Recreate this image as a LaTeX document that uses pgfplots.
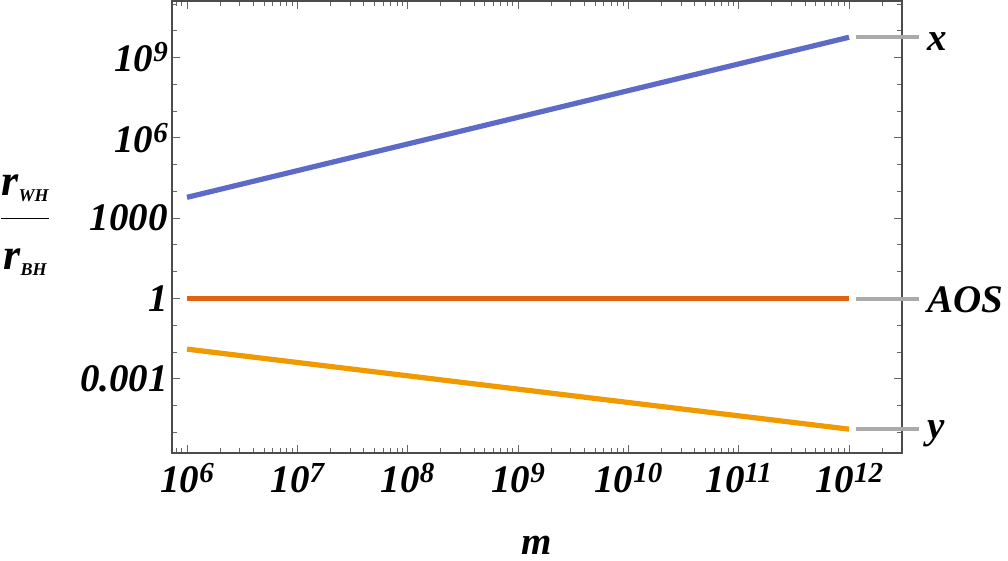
\documentclass[border=0pt]{standalone}
\usepackage{pgfplots}
\pgfplotsset{compat=1.18}
\usepackage{fontspec}
\setmainfont{Liberation Serif}
\definecolor{cx}{RGB}{93,106,200}
\definecolor{caos}{RGB}{227,98,15}
\definecolor{cy}{RGB}{240,154,0}
\definecolor{cgr}{RGB}{170,170,170}
\newcommand{\tp}[1]{10\raisebox{5pt}{\fontsize{14.5}{15}\selectfont #1}}
\newcommand{\lab}{\fontsize{19.5}{21}\selectfont\bfseries\itshape}
\begin{document}
\begin{tikzpicture}
\begin{axis}[
  xmode=log, ymode=log,
  scale only axis, width=365pt, height=226pt,
  xmin=7.31e5, xmax=3.02e12,
  ymin=1.70e-6, ymax=1.3e11,
  clip=false,
  axis line style={black!70, line width=0.6pt},
  tick style={black!60, line width=0.5pt},
  major tick length=4pt, minor tick length=2.3pt,
  tick align=inside,
  xtick={1e6,1e7,1e8,1e9,1e10,1e11,1e12},
  xticklabels={\tp{6},\tp{7},\tp{8},\tp{9},\tp{10},\tp{11},\tp{12}},
  minor xtick={8e5,9e5,
    2e6,3e6,4e6,5e6,6e6,7e6,8e6,9e6,
    2e7,3e7,4e7,5e7,6e7,7e7,8e7,9e7,
    2e8,3e8,4e8,5e8,6e8,7e8,8e8,9e8,
    2e9,3e9,4e9,5e9,6e9,7e9,8e9,9e9,
    2e10,3e10,4e10,5e10,6e10,7e10,8e10,9e10,
    2e11,3e11,4e11,5e11,6e11,7e11,8e11,9e11,
    2e12},
  ytick={1e-3,1,1e3,1e6,1e9},
  yticklabels={0.001,1,1000,\tp{6},\tp{9}},
  minor ytick={1e-5,1e-4,1e-2,1e-1,1e1,1e2,1e4,1e5,1e7,1e8,1e10,1e11},
  every tick label/.append style={font=\lab},
  xticklabel style={yshift=-1.7pt},
  yticklabel style={xshift=1.5pt},
  xlabel={m},
  xlabel style={font=\lab, at={(rel axis cs:0.5,0)}, anchor=base, yshift=-51pt},
]
\addplot[cx, line width=2.6pt] coordinates {(1e6,6026) (1e12,5.75e9)};
\addplot[caos, line width=2.6pt] coordinates {(1e6,1) (1e12,1)};
\addplot[cy, line width=2.6pt] coordinates {(1e6,0.0129) (1e12,1.32e-5)};
\addplot[cgr, line width=2pt] coordinates {(1.16e12,5.75e9) (4.33e12,5.75e9)};
\addplot[cgr, line width=2pt] coordinates {(1.16e12,1) (4.33e12,1)};
\addplot[cgr, line width=2pt] coordinates {(1.16e12,1.32e-5) (4.33e12,1.32e-5)};
\node[anchor=base west, inner sep=0pt, font=\lab, xshift=4pt, yshift=-6.5pt] at (axis cs:4.33e12,5.75e9) {x};
\node[anchor=base west, inner sep=0pt, font=\lab, xshift=4pt, yshift=-7pt] at (axis cs:4.33e12,1) {AOS};
\node[anchor=base west, inner sep=0pt, font=\lab, xshift=4pt, yshift=-4.5pt] at (axis cs:4.33e12,1.32e-5) {y};
\node[anchor=center, inner sep=0pt] at ([xshift=-73.5pt]rel axis cs:0,0.509) {%
  \fontsize{22}{24}\selectfont\bfseries\itshape\setlength{\arrayrulewidth}{0.7pt}%
  \begin{tabular}{@{}c@{}}
  r\raisebox{-0.3ex}{\fontsize{9}{10}\selectfont WH}\\[4pt]\hline
  \rule{0pt}{25pt}r\raisebox{-0.3ex}{\fontsize{9}{10}\selectfont BH}
  \end{tabular}};
\coordinate (SW) at (rel axis cs:0,0);
\coordinate (NE) at (rel axis cs:1,1);
\end{axis}
\pgfresetboundingbox
\path ([xshift=-86pt,yshift=-54pt]SW) rectangle ([xshift=53pt,yshift=0.5pt]NE);
\end{tikzpicture}
\end{document}
